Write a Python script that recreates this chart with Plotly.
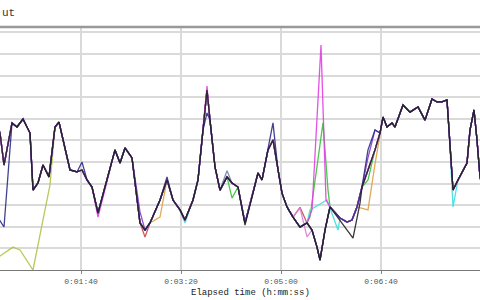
import plotly.graph_objects as go

# Elapsed time (seconds) and common throughput profile (grid units)
base_t = [15, 19, 23, 31, 36, 42, 49, 52, 57, 62, 68, 74, 78, 84, 89, 96, 101, 106, 111, 117,
          126, 134, 139, 144, 151, 159, 164, 169, 179, 186, 192, 199, 204, 212, 217, 222, 226,
          229, 234, 239, 246, 251, 257, 264, 271, 277, 281, 287, 292, 297, 301, 306, 312, 319,
          326, 331, 336, 339, 344, 349, 354, 359, 366, 371, 376, 381, 387, 394, 399, 402, 406,
          411, 414, 422, 429, 437, 444, 451, 456, 461, 466, 469, 472, 477, 482, 486, 489, 493,
          496, 499, 502]
base_v = [6.9, 6.34, 4.86, 6.81, 6.62, 6.99, 6.34, 3.70, 4.03, 4.86, 4.31, 6.62, 6.85, 5.56,
          4.63, 4.54, 4.63, 4.17, 3.84, 2.64, 4.17, 5.56, 4.95, 5.65, 5.19, 2.18, 1.85, 2.18,
          3.24, 4.17, 3.24, 2.78, 2.31, 3.24, 4.17, 6.48, 8.33, 6.94, 4.77, 3.70, 4.31, 4.03,
          3.84, 2.18, 3.38, 4.49, 4.17, 5.56, 6.02, 4.63, 3.56, 2.92, 2.45, 1.99, 2.18, 1.85,
          1.06, 0.46, 1.85, 2.92, 2.64, 2.41, 2.22, 2.31, 2.92, 3.84, 4.63, 5.56, 6.34, 7.08,
          6.62, 6.81, 6.62, 7.64, 7.31, 7.55, 6.94, 7.92, 7.78, 7.78, 7.87, 5.69, 3.70, 4.17,
          4.63, 4.95, 6.48, 7.41, 6.02, 4.31, 3.70]

tick_vals = [100, 200, 300, 400, 500]
tick_text = ["0:01:40", "0:03:20", "0:05:00", "0:06:40", "0:08:20"]

# Per-series deviations from the common profile: (time, value) segments
series = [
    ("olive", "#b5c24a", [[(16, 0.55), (32, 1.06), (39, 0.93), (52, 0.0), (69, 3.94)]]),
    ("orange", "#e0a048", [[(179, 2.45)], [(381, 2.85), (387, 2.78), (394, 4.9)]]),
    ("red", "#c84a4a", [[(164, 1.53)], [(319, 2.9)]]),
    ("green", "#3cc03c", [[(251, 3.33)], [(329, 2.45), (342, 6.81), (347, 3.70)], [(387, 4.17)]]),
    ("cyan", "#40dede", [[(204, 2.18)], [(329, 2.78), (346, 3.24), (357, 1.85)], [(472, 2.92)]]),
    ("pink", "#d884d8", [[(319, 2.87), (326, 1.53)]]),
    ("grayblue", "#7080a8", [[(246, 4.6)]]),
    ("purple", "#8a3cc8", [[(159, 2.69)], [(387, 5.2), (394, 6.48)]]),
    ("magenta", "#e040e0", [[(117, 2.45)], [(226, 8.52)], [(331, 2.78), (340, 10.42), (345, 3.24)]]),
    ("navy", "#2e2e88", [[(16, 2.5), (23, 1.99), (31, 6.81)], [(101, 5.0)], [(186, 4.31)],
                         [(226, 7.27)], [(292, 6.81)], [(387, 5.56), (394, 6.48)]]),
    ("black", "#222222", [[(264, 2.08)], [(349, 2.92), (372, 1.48), (379, 3.10)]]),
]


def build(segments):
    pts = dict(zip(base_t, base_v))
    for seg in segments:
        t0, t1 = seg[0][0], seg[-1][0]
        pts = {t: v for t, v in pts.items() if not (t0 <= t <= t1)}
        pts.update(dict(seg))
    ts = sorted(pts)
    return ts, [pts[t] for t in ts]


fig = go.Figure()
for name, color, segs in series:
    xs, ys = build(segs)
    fig.add_trace(go.Scatter(x=xs, y=ys, mode="lines", name=name,
                             line=dict(color=color, width=1.3), opacity=0.9))

fig.update_layout(
    width=480, height=300,
    margin=dict(l=0, r=0, t=27, b=30),
    paper_bgcolor="white", plot_bgcolor="white",
    showlegend=False,
    xaxis=dict(range=[19, 499], tickvals=tick_vals, ticktext=tick_text,
               showgrid=True, gridcolor="#dadada", gridwidth=1.5,
               ticks="outside", ticklen=3, tickcolor="#888",
               showline=True, linecolor="#777", linewidth=1, zeroline=False,
               tickfont=dict(family="Liberation Mono", size=8, color="#555")),
    yaxis=dict(range=[0, 11.25], dtick=1, showgrid=True, gridcolor="#dadada", gridwidth=1.5,
               showticklabels=False, zeroline=False, showline=False),
    shapes=[dict(type="line", xref="paper", yref="paper", x0=0, x1=1, y0=1, y1=1,
                 line=dict(color="#999", width=2.5))],
    annotations=[
        dict(text="ut", xref="paper", yref="paper", x=0, y=1,
             yshift=14, xanchor="left", yanchor="middle", showarrow=False,
             font=dict(family="Liberation Mono", size=11, color="#333")),
        dict(text="Elapsed time (h:mm:ss)", xref="paper", yref="paper", x=250 / 480, y=0,
             yshift=-23, xanchor="center", yanchor="middle", showarrow=False,
             font=dict(family="Liberation Mono", size=9, color="#222")),
    ],
)

fig.write_html("out.html")
